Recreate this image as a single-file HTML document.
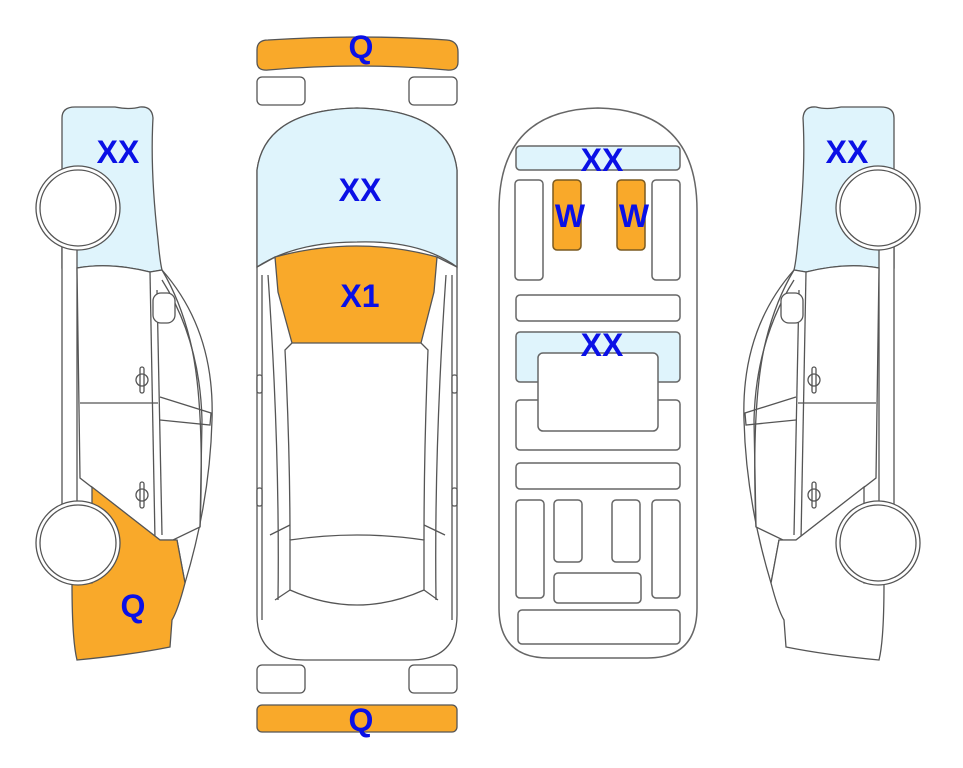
<!DOCTYPE html>
<html><head><meta charset="utf-8"><style>
html,body{margin:0;padding:0;background:#fff}
svg{display:block}
text{font-family:"Liberation Sans",Arial,sans-serif;font-weight:bold;fill:#0a10e6;font-size:32px;text-anchor:middle}
</style></head><body>
<svg width="963" height="768" viewBox="0 0 963 768" xmlns="http://www.w3.org/2000/svg">
<defs>
<g id="side" fill="none" stroke="#555" stroke-width="1.3">
  <path d="M62,118 Q62,107 75,107 L115,107 Q130,110 140,107 Q152,106 153,118 Q150,170 158,240 Q160,262 162,270 L150,272 Q110,262 77,268 L62,268 Z" fill="#dff4fc"/>
  <path d="M62,240 L62,505 L77,505 L77,240" fill="#fff"/>
  <path d="M162,270 Q215,330 212,420 Q210,500 185,583 L177,540" fill="#fff"/>
  <path d="M77,268 Q110,262 150,272 L162,270 Q180,300 190,340 Q205,400 200,527 L173,540 L160,540 L80,478 Z" fill="#fff"/>
  <path d="M150,272 L155,540"/>
  <path d="M157,290 L162,535"/>
  <path d="M162,280 Q200,340 202,420 L200,527"/>
  <path d="M80,403 L158,403"/>
  <path d="M160,397 L211,413 L210,425 L160,420"/>
  <rect x="153" y="293" width="22" height="30" rx="8" fill="#fff"/>
  <rect x="140" y="367" width="4" height="26" rx="2" fill="#fff"/>
  <circle cx="142" cy="380" r="6"/>
  <rect x="140" y="482" width="4" height="26" rx="2" fill="#fff"/>
  <circle cx="142" cy="495" r="6"/>
</g>
</defs>

<use href="#side"/>
<path d="M92,487 L160,540 L177,540 L185,583 Q178,610 172,620 L170,647 Q130,655 77,660 Q72,640 72,583 L92,583 Z" fill="#f9a92a" stroke="#555" stroke-width="1.3"/>
<circle cx="78" cy="208" r="42" fill="#fff" stroke="#555" stroke-width="1.3"/>
<circle cx="78" cy="208" r="38" fill="#fff" stroke="#555" stroke-width="1.3"/>
<circle cx="78" cy="543" r="42" fill="#fff" stroke="#555" stroke-width="1.3"/>
<circle cx="78" cy="543" r="38" fill="#fff" stroke="#555" stroke-width="1.3"/>
<text x="118" y="163">XX</text>
<text x="133" y="617">Q</text>

<g transform="translate(956,0) scale(-1,1)">
<use href="#side"/>
<path d="M92,487 L160,540 L177,540 L185,583 Q178,610 172,620 L170,647 Q130,655 77,660 Q72,640 72,583 L92,583 Z" fill="#fff" stroke="#555" stroke-width="1.3"/>
<circle cx="78" cy="208" r="42" fill="#fff" stroke="#555" stroke-width="1.3"/>
<circle cx="78" cy="208" r="38" fill="#fff" stroke="#555" stroke-width="1.3"/>
<circle cx="78" cy="543" r="42" fill="#fff" stroke="#555" stroke-width="1.3"/>
<circle cx="78" cy="543" r="38" fill="#fff" stroke="#555" stroke-width="1.3"/>
</g>
<text x="847" y="163">XX</text>

<g stroke="#555" stroke-width="1.3">
<path d="M257,50 Q257,40 268,40 Q360,34 447,40 Q458,41 458,52 L458,62 Q458,71 447,70 Q360,62 268,70 Q257,71 257,62 Z" fill="#f9a92a"/>
<rect x="257" y="77" width="48" height="28" rx="5" fill="#fff"/>
<rect x="409" y="77" width="48" height="28" rx="5" fill="#fff"/>
<path d="M257,170 Q265,110 357,108 Q450,110 457,170 L457,615 Q457,660 410,660 L305,660 Q257,660 257,615 Z" fill="#fff"/>
<path d="M257,170 Q265,110 357,108 Q450,110 457,170 L457,267 Q420,240 357,242 Q295,242 257,267 Z" fill="#dff4fc"/>
<path d="M275,257 Q357,235 437,257 L434,292 L421,343 L292,343 L278,292 Z" fill="#f9a92a"/>
<path d="M257,267 L275,257 M457,267 L437,257" fill="none"/>
<path d="M262,275 L262,620 M452,275 L452,620 M268,275 Q280,450 278,600 M446,275 Q434,450 436,600" fill="none"/>
<path d="M292,343 L285,350 Q290,450 290,540 M421,343 L428,350 Q424,450 424,540" fill="none"/>
<path d="M290,540 Q357,530 424,540 L424,590 Q357,620 290,590 Z" fill="#fff"/>
<path d="M275,600 L290,590 M438,600 L424,590 M270,535 L290,525 M445,535 L424,525" fill="none"/>
<rect x="257" y="375" width="5" height="18" rx="2" fill="#fff"/>
<rect x="452" y="375" width="5" height="18" rx="2" fill="#fff"/>
<rect x="257" y="488" width="5" height="18" rx="2" fill="#fff"/>
<rect x="452" y="488" width="5" height="18" rx="2" fill="#fff"/>
<rect x="257" y="665" width="48" height="28" rx="5" fill="#fff"/>
<rect x="409" y="665" width="48" height="28" rx="5" fill="#fff"/>
<rect x="257" y="705" width="200" height="27" rx="5" fill="#f9a92a"/>
</g>
<text x="361" y="58">Q</text>
<text x="360" y="201">XX</text>
<text x="360" y="307">X1</text>
<text x="361" y="731">Q</text>

<g stroke="#666" stroke-width="1.5" fill="#fff">
<path d="M499,210 Q499,110 598,108 Q697,110 697,210 L697,608 Q697,658 647,658 L549,658 Q499,658 499,608 Z"/>
<rect x="516" y="146" width="164" height="24" rx="4" fill="#dff4fc"/>
<rect x="515" y="180" width="28" height="100" rx="4"/>
<rect x="652" y="180" width="28" height="100" rx="4"/>
<rect x="553" y="180" width="28" height="70" rx="4" fill="#f9a92a" stroke="#7a5a20"/>
<rect x="617" y="180" width="28" height="70" rx="4" fill="#f9a92a" stroke="#7a5a20"/>
<rect x="516" y="295" width="164" height="26" rx="4"/>
<rect x="516" y="332" width="164" height="50" rx="4" fill="#dff4fc"/>
<rect x="516" y="400" width="164" height="50" rx="4"/>
<rect x="538" y="353" width="120" height="78" rx="5"/>
<rect x="516" y="463" width="164" height="26" rx="4"/>
<rect x="516" y="500" width="28" height="98" rx="4"/>
<rect x="554" y="500" width="28" height="62" rx="4"/>
<rect x="612" y="500" width="28" height="62" rx="4"/>
<rect x="652" y="500" width="28" height="98" rx="4"/>
<rect x="554" y="573" width="87" height="30" rx="4"/>
<rect x="518" y="610" width="162" height="34" rx="4"/>
</g>
<text x="602" y="171">XX</text>
<text x="570" y="227">W</text>
<text x="634" y="227">W</text>
<text x="602" y="356">XX</text>
</svg>
</body></html>
